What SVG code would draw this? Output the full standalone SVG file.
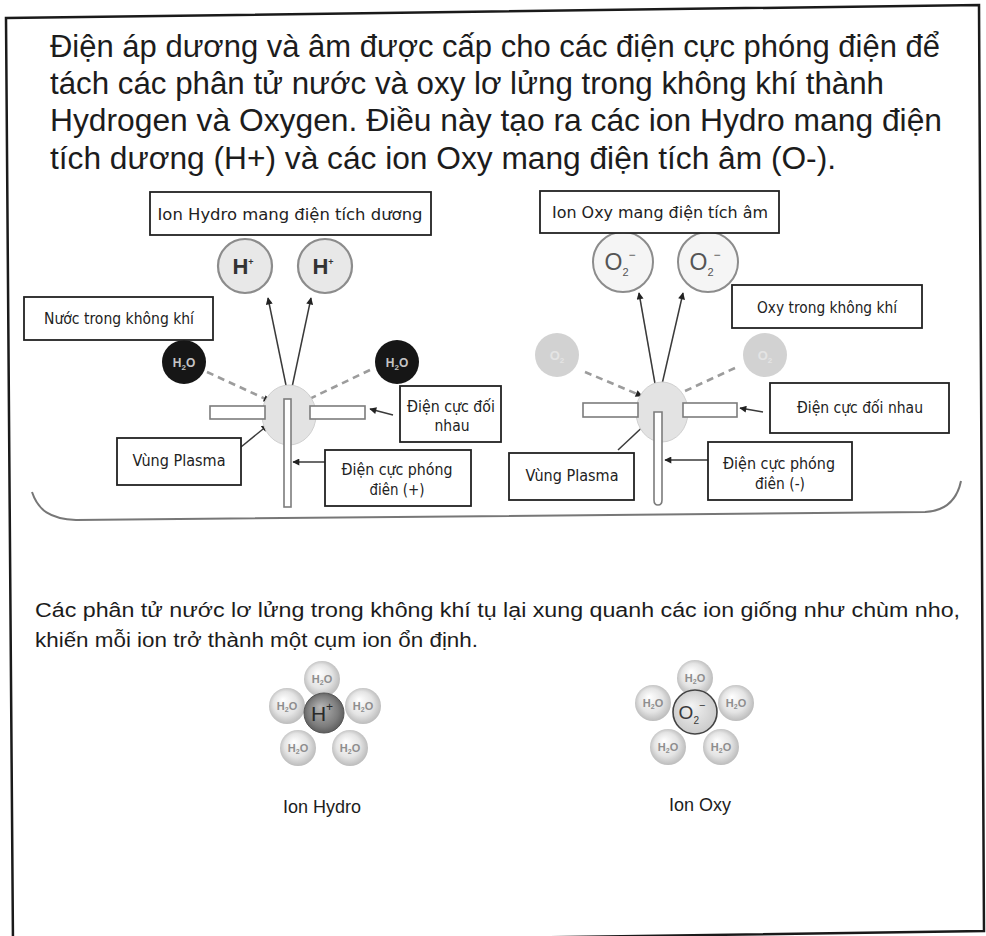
<svg xmlns="http://www.w3.org/2000/svg" width="986" height="936" viewBox="0 0 986 936">
  <defs>
    <style>
      .title{font-family:"Liberation Sans","Noto Sans",Arial,sans-serif;font-size:31px;fill:#1c1c1c}
      .body{font-family:"Liberation Sans","Noto Sans",Arial,sans-serif;font-size:20px;fill:#1c1c1c}
      .cap{font-family:"Liberation Sans","Noto Sans",Arial,sans-serif;font-size:18px;fill:#1c1c1c;text-anchor:middle}
      .lbl{font-family:"DejaVu Sans","Noto Sans",sans-serif;font-size:15px;fill:#222;text-anchor:middle}
      .box{fill:#fff;stroke:#222;stroke-width:1.8}
      .lead{stroke:#3a3a3a;stroke-width:1.5;fill:none;marker-end:url(#ah)}
      .dash{stroke:#9c9c9c;stroke-width:2.6;stroke-dasharray:7 5;fill:none;marker-end:url(#ah)}
      .elec{fill:#fff;stroke:#7c7c7c;stroke-width:1.6}
      .plasma{fill:#e3e3e3;stroke:#d0d0d0;stroke-width:1}
      .hion{fill:#e8e8e8;stroke:#8c8c8c;stroke-width:2.2}
      .oion{fill:#f5f5f5;stroke:#8c8c8c;stroke-width:2}
      .ht{font-family:"Liberation Sans",Arial,sans-serif;font-weight:bold;font-size:22px;fill:#333;text-anchor:middle}
      .ot{font-family:"Liberation Sans",Arial,sans-serif;font-size:23px;fill:#555;text-anchor:middle}
      .wt{font-family:"Liberation Sans",Arial,sans-serif;font-weight:bold;font-size:12px;fill:#c4c4c4;text-anchor:middle}
      .ft{font-family:"Liberation Sans",Arial,sans-serif;font-weight:bold;font-size:13px;fill:#e4e4e4;text-anchor:middle}
      .ct{font-family:"Liberation Sans",Arial,sans-serif;font-weight:bold;font-size:11px;fill:#8e8e8e;text-anchor:middle}
    </style>
    <marker id="ah" viewBox="0 0 10 10" refX="9" refY="5" markerWidth="8" markerHeight="7" markerUnits="userSpaceOnUse" orient="auto">
      <path d="M0,0 L10,5 L0,10 z" fill="#222"/>
    </marker>
    <radialGradient id="water" cx="50%" cy="50%" r="55%" fx="38%" fy="32%">
      <stop offset="0" stop-color="#ffffff"/>
      <stop offset="0.6" stop-color="#e4e4e4"/>
      <stop offset="1" stop-color="#b4b4b4"/>
    </radialGradient>
    <radialGradient id="hcore" cx="50%" cy="50%" r="55%" fx="40%" fy="35%">
      <stop offset="0" stop-color="#b8b8b8"/>
      <stop offset="0.7" stop-color="#7c7c7c"/>
      <stop offset="1" stop-color="#555"/>
    </radialGradient>
    <radialGradient id="ocore" cx="50%" cy="50%" r="55%" fx="40%" fy="35%">
      <stop offset="0" stop-color="#f4f4f4"/>
      <stop offset="1" stop-color="#c8c8c8"/>
    </radialGradient>
  </defs>

  <rect width="986" height="936" fill="#fff"/>

  <!-- outer page frame -->
  <polygon points="6,18 979,5 984,931 13,945" fill="none" stroke="#1a1a1a" stroke-width="2.5"/>

  <!-- heading paragraph -->
  <g id="heading">
    <text class="title" x="50" y="57" textLength="890" lengthAdjust="spacingAndGlyphs">Điện áp dương và âm được cấp cho các điện cực phóng điện để</text>
    <text class="title" x="50" y="94" textLength="834" lengthAdjust="spacingAndGlyphs">tách các phân tử nước và oxy lơ lửng trong không khí thành</text>
    <text class="title" x="50" y="131" textLength="892" lengthAdjust="spacingAndGlyphs">Hydrogen và Oxygen. Điều này tạo ra các ion Hydro mang điện</text>
    <text class="title" x="50" y="169" textLength="786" lengthAdjust="spacingAndGlyphs">tích dương (H+) và các ion Oxy mang điện tích âm (O-).</text>
  </g>

  <!-- rounded base line under both generators -->
  <path d="M32,492 C38,510 50,519 76,520 L925,512 C945,511 957,500 961,481" fill="none" stroke="#777" stroke-width="2"/>

  <!-- connectors -->
  <g id="connectors">
    <!-- positive side -->
    <line class="lead" x1="288" y1="395" x2="268" y2="298"/>
    <line class="lead" x1="291" y1="392" x2="311" y2="298"/>
    <line class="dash" x1="207" y1="372" x2="270" y2="401"/>
    <line class="dash" x1="370" y1="370" x2="305" y2="401"/>
    <line class="lead" x1="393" y1="415" x2="370" y2="409"/>
    <line class="lead" x1="241" y1="447" x2="268" y2="425"/>
    <line class="lead" x1="325" y1="462" x2="293" y2="462"/>
    <!-- negative side -->
    <line class="lead" x1="657" y1="395" x2="639" y2="293"/>
    <line class="lead" x1="660" y1="393" x2="683" y2="293"/>
    <line class="dash" x1="585" y1="372" x2="642" y2="396"/>
    <line class="dash" x1="735" y1="368" x2="672" y2="397"/>
    <line class="lead" x1="763" y1="412" x2="740" y2="408"/>
    <line class="lead" x1="618" y1="450" x2="650" y2="420"/>
    <line class="lead" x1="708" y1="460" x2="665" y2="460"/>
  </g>

  <!-- positive generator -->
  <g id="plasma-pos">
    <ellipse class="plasma" cx="289" cy="415" rx="27" ry="30"/>
    <rect class="elec" x="210" y="406" width="55" height="13"/>
    <rect class="elec" x="310" y="406" width="55" height="13"/>
    <rect class="elec" x="284" y="399" width="7" height="108"/>
  </g>
  <g id="hplus-1">
    <circle class="hion" cx="245" cy="266" r="27"/>
    <text class="ht" x="243" y="274">H<tspan font-size="9" dy="-9">+</tspan></text>
  </g>
  <g id="hplus-2">
    <circle class="hion" cx="325" cy="266" r="27"/>
    <text class="ht" x="323" y="274">H<tspan font-size="9" dy="-9">+</tspan></text>
  </g>
  <g id="water-1">
    <circle cx="184" cy="362" r="22" fill="#161616"/>
    <text class="wt" x="184" y="367">H<tspan font-size="8" dy="3">2</tspan><tspan dy="-3">O</tspan></text>
  </g>
  <g id="water-2">
    <circle cx="397" cy="362" r="22" fill="#161616"/>
    <text class="wt" x="397" y="367">H<tspan font-size="8" dy="3">2</tspan><tspan dy="-3">O</tspan></text>
  </g>
  <g id="label-hion">
    <rect class="box" x="150" y="192" width="281" height="43"/>
    <text class="lbl" x="290" y="220" textLength="265" lengthAdjust="spacingAndGlyphs">Ion Hydro mang điện tích dương</text>
  </g>
  <g id="label-water">
    <rect class="box" x="24" y="297" width="189" height="43"/>
    <text class="lbl" x="119" y="324" textLength="150" lengthAdjust="spacingAndGlyphs">Nước trong không khí</text>
  </g>
  <g id="label-opp-pos">
    <rect class="box" x="400" y="386" width="101" height="56"/>
    <text class="lbl" x="451" y="412" textLength="88" lengthAdjust="spacingAndGlyphs">Điện cực đối</text>
    <text class="lbl" x="452" y="431" textLength="35" lengthAdjust="spacingAndGlyphs">nhau</text>
  </g>
  <g id="label-plasma-pos">
    <rect class="box" x="117" y="438" width="124" height="47"/>
    <text class="lbl" x="179" y="466" textLength="93" lengthAdjust="spacingAndGlyphs">Vùng Plasma</text>
  </g>
  <g id="label-discharge-pos">
    <rect class="box" x="325" y="450" width="146" height="56"/>
    <text class="lbl" x="397" y="475" textLength="111" lengthAdjust="spacingAndGlyphs">Điện cực phóng</text>
    <text class="lbl" x="397" y="495" textLength="55" lengthAdjust="spacingAndGlyphs">điên (+)</text>
  </g>

  <!-- negative generator -->
  <g id="plasma-neg">
    <ellipse class="plasma" cx="662" cy="412" rx="26" ry="30"/>
    <rect class="elec" x="583" y="403" width="55" height="14"/>
    <rect class="elec" x="683" y="403" width="54" height="14"/>
    <path class="elec" d="M654,412 L662,412 L662,500 Q662,505 658,505 Q654,505 654,500 Z"/>
  </g>
  <g id="o2minus-1">
    <circle class="oion" cx="623" cy="262" r="30"/>
    <text class="ot" x="620" y="270">O<tspan font-size="11" dy="6">2</tspan><tspan font-size="12" dy="-17">−</tspan></text>
  </g>
  <g id="o2minus-2">
    <circle class="oion" cx="708" cy="262" r="30"/>
    <text class="ot" x="705" y="270">O<tspan font-size="11" dy="6">2</tspan><tspan font-size="12" dy="-17">−</tspan></text>
  </g>
  <g id="oxygen-1">
    <circle cx="557" cy="355" r="22" fill="#d2d2d2"/>
    <text class="ft" x="557" y="360">O<tspan font-size="8" dy="3">2</tspan></text>
  </g>
  <g id="oxygen-2">
    <circle cx="765" cy="355" r="22" fill="#d2d2d2"/>
    <text class="ft" x="765" y="360">O<tspan font-size="8" dy="3">2</tspan></text>
  </g>
  <g id="label-oion">
    <rect class="box" x="540" y="191" width="239" height="42"/>
    <text class="lbl" x="660" y="218" textLength="216" lengthAdjust="spacingAndGlyphs">Ion Oxy mang điện tích âm</text>
  </g>
  <g id="label-oxygen">
    <rect class="box" x="732" y="285" width="190" height="43"/>
    <text class="lbl" x="827" y="313" textLength="140" lengthAdjust="spacingAndGlyphs">Oxy trong không khí</text>
  </g>
  <g id="label-opp-neg">
    <rect class="box" x="770" y="383" width="179" height="50"/>
    <text class="lbl" x="860" y="413" textLength="126" lengthAdjust="spacingAndGlyphs">Điện cực đối nhau</text>
  </g>
  <g id="label-plasma-neg">
    <rect class="box" x="509" y="453" width="125" height="47"/>
    <text class="lbl" x="572" y="481" textLength="93" lengthAdjust="spacingAndGlyphs">Vùng Plasma</text>
  </g>
  <g id="label-discharge-neg">
    <rect class="box" x="708" y="442" width="144" height="58"/>
    <text class="lbl" x="779" y="469" textLength="112" lengthAdjust="spacingAndGlyphs">Điện cực phóng</text>
    <text class="lbl" x="780" y="489" textLength="50" lengthAdjust="spacingAndGlyphs">điên (-)</text>
  </g>

  <!-- cluster paragraph -->
  <g id="cluster-text">
    <text class="body" x="35" y="617" textLength="925" lengthAdjust="spacingAndGlyphs">Các phân tử nước lơ lửng trong không khí tụ lại xung quanh các ion giống như chùm nho,</text>
    <text class="body" x="35" y="647" textLength="443" lengthAdjust="spacingAndGlyphs">khiến mỗi ion trở thành một cụm ion ổn định.</text>
  </g>

  <!-- hydrogen ion cluster -->
  <g id="cluster-hydro">
    <circle cx="322" cy="679" r="18" fill="url(#water)"/>
    <text class="ct" x="322" y="683">H<tspan font-size="7" dy="2">2</tspan><tspan dy="-2">O</tspan></text>
    <circle cx="287" cy="706" r="18" fill="url(#water)"/>
    <text class="ct" x="287" y="710">H<tspan font-size="7" dy="2">2</tspan><tspan dy="-2">O</tspan></text>
    <circle cx="363" cy="706" r="18" fill="url(#water)"/>
    <text class="ct" x="363" y="710">H<tspan font-size="7" dy="2">2</tspan><tspan dy="-2">O</tspan></text>
    <circle cx="298" cy="748" r="18" fill="url(#water)"/>
    <text class="ct" x="298" y="752">H<tspan font-size="7" dy="2">2</tspan><tspan dy="-2">O</tspan></text>
    <circle cx="350" cy="748" r="18" fill="url(#water)"/>
    <text class="ct" x="350" y="752">H<tspan font-size="7" dy="2">2</tspan><tspan dy="-2">O</tspan></text>
    <circle cx="324" cy="713" r="20" fill="url(#hcore)" stroke="#555" stroke-width="1"/>
    <text x="322" y="721" font-family="Liberation Sans, Arial, sans-serif" font-size="21" fill="#2a2a2a" text-anchor="middle">H<tspan font-size="12" dy="-10">+</tspan></text>
    <text class="cap" x="322" y="813">Ion Hydro</text>
  </g>

  <!-- oxygen ion cluster -->
  <g id="cluster-oxy">
    <circle cx="695" cy="678" r="18" fill="url(#water)"/>
    <text class="ct" x="695" y="682">H<tspan font-size="7" dy="2">2</tspan><tspan dy="-2">O</tspan></text>
    <circle cx="653" cy="703" r="18" fill="url(#water)"/>
    <text class="ct" x="653" y="707">H<tspan font-size="7" dy="2">2</tspan><tspan dy="-2">O</tspan></text>
    <circle cx="736" cy="703" r="18" fill="url(#water)"/>
    <text class="ct" x="736" y="707">H<tspan font-size="7" dy="2">2</tspan><tspan dy="-2">O</tspan></text>
    <circle cx="668" cy="747" r="18" fill="url(#water)"/>
    <text class="ct" x="668" y="751">H<tspan font-size="7" dy="2">2</tspan><tspan dy="-2">O</tspan></text>
    <circle cx="721" cy="747" r="18" fill="url(#water)"/>
    <text class="ct" x="721" y="751">H<tspan font-size="7" dy="2">2</tspan><tspan dy="-2">O</tspan></text>
    <circle cx="695" cy="712" r="22" fill="url(#ocore)" stroke="#444" stroke-width="1.6"/>
    <text x="692" y="719" font-family="Liberation Sans, Arial, sans-serif" font-size="19" fill="#3a3a3a" text-anchor="middle">O<tspan font-size="10" dy="5">2</tspan><tspan font-size="11" dy="-15">−</tspan></text>
    <text class="cap" x="700" y="811">Ion Oxy</text>
  </g>
</svg>
